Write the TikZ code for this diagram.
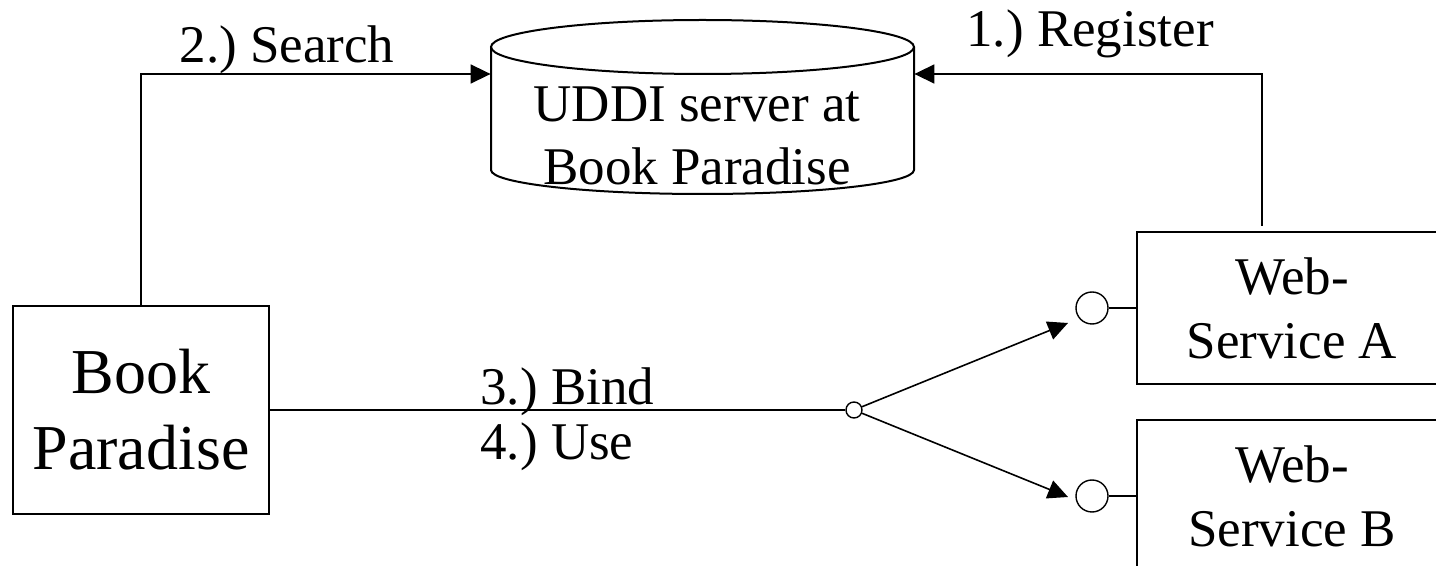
\documentclass[tikz,border=0pt]{standalone}
\usepackage{fontspec}
\setmainfont{Liberation Serif}
\usetikzlibrary{arrows.meta}
\begin{document}
\frenchspacing
\begin{tikzpicture}[x=0.5pt,y=-0.5pt,
  box/.style={draw, line width=1pt, inner sep=0pt, align=center,
    font=\fontsize{26.5}{32}\selectfont},
  openbox/.style={box, draw=none},
  frame/.style={line width=1pt},
  bigbox/.style={box, font=\fontsize{32}{38}\selectfont},
  lbl/.style={inner sep=0pt, font=\fontsize{26.5}{32}\selectfont},
  conn/.style={line width=0.8pt},
  arr/.style={conn, -{Triangle[length=10pt,width=9.5pt]}},
  port/.style={draw, circle, line width=0.7pt, inner sep=0pt, fill=white}]
\clip (0,0) rectangle (1436,566);
\fill[white] (0,0) rectangle (1436,566);
% cylinder
\node[inner sep=0pt, minimum width=211.5pt, minimum height=87pt] (uddi) at (702.5,107) {};
\draw[frame] (491,47) -- (491,170) arc[start angle=180, end angle=0, x radius=211.5, y radius=24] -- (914,47);
\draw[frame] (702.5,47) ellipse [x radius=211.5, y radius=27];
\node[lbl, anchor=base] (u1) at (697,122) {UDDI server at};
\node[lbl, anchor=base] (u2) at (697,185) {Book Paradise};
% boxes
\node[bigbox, minimum width=128pt, minimum height=104pt] (book) at (141,410) {Book\\Paradise};
\node[openbox, minimum width=154pt, minimum height=75pt] (wsa) at (1292,308) {Web-\\Service A};
\node[openbox, minimum width=154pt, minimum height=75pt] (wsb) at (1292,496) {Web-\\Service B};
\draw[frame] ([xshift=20pt]wsa.north east) -- (wsa.north west) -- (wsa.south west) -- ([xshift=20pt]wsa.south east);
\draw[frame] ([xshift=20pt]wsb.north east) -- (wsb.north west) -- (wsb.south west) -- ([xshift=20pt]wsb.south east);
% ports
\node[port, minimum size=16pt] (pa) at (1092,308) {};
\node[port, minimum size=16pt] (pb) at (1092,496) {};
\node[port, minimum size=8pt] (jn) at (854,410) {};
\coordinate (ta) at (1068,323);
\coordinate (tb) at (1068,497);
\coordinate (sy) at (0,74);
% connectors
\draw[arr] (book.north) |- (uddi.west |- sy);
\draw[arr, shorten <=3pt] ([xshift=-15pt]wsa.north) |- (uddi.east |- sy);
\draw[conn] (book.east) -- (jn.west);
\draw[arr] (jn) -- (ta);
\draw[arr] (jn) -- (tb);
\draw[conn] (pa.east) -- (pa.east -| wsa.west);
\draw[conn] (pb.east) -- (pb.east -| wsb.west);
% labels
\node[lbl, anchor=base] (l2) at (287,63) {2.) Search};
\node[lbl, anchor=base] (l1) at (1090,47) {1.) Register};
\node[lbl, anchor=base west] (l3) at (480,405) {3.) Bind};
\node[lbl, anchor=base west] (l4) at (480,460) {4.) Use};
\end{tikzpicture}
\end{document}
